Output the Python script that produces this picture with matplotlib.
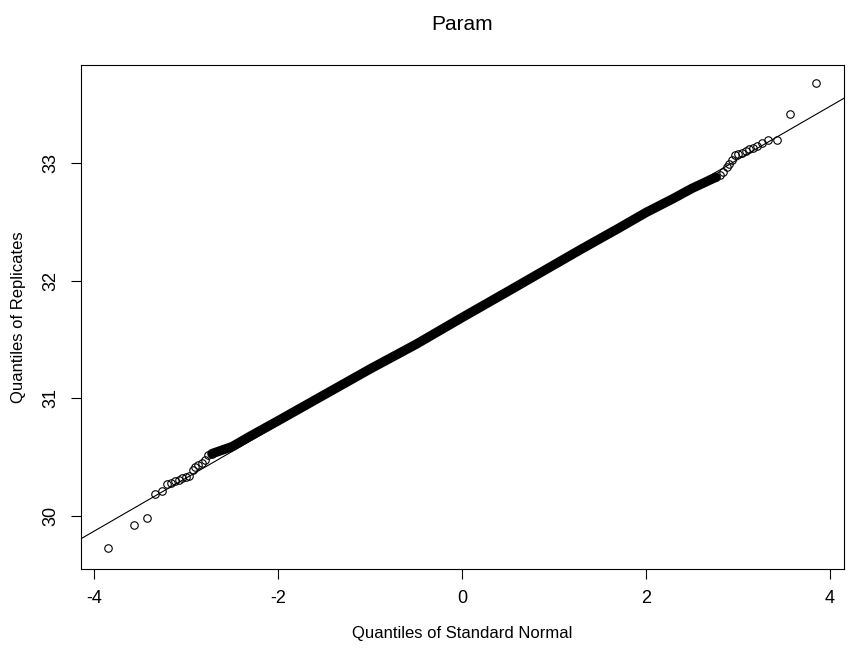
import matplotlib
matplotlib.use("Agg")
import matplotlib.pyplot as plt

plt.rcParams['font.family'] = ['Liberation Sans', 'DejaVu Sans']
plt.rcParams['axes.unicode_minus'] = False

# sparse tail points (theoretical quantile, sample quantile)
low_x = [-3.845, -3.565, -3.43, -3.34, -3.264, -3.21, -3.163, -3.12, -3.08, -3.04,
         -3.0, -2.964, -2.93, -2.90, -2.866, -2.83, -2.79, -2.757, -2.72]
low_y = [29.726, 29.926, 29.983, 30.19, 30.21, 30.27, 30.283, 30.30, 30.31, 30.32,
         30.33, 30.343, 30.39, 30.42, 30.433, 30.45, 30.476, 30.518, 30.53]

high_x = [2.76, 2.80, 2.84, 2.877, 2.90, 2.93, 2.967, 3.0, 3.043, 3.087,
          3.12, 3.167, 3.21, 3.265, 3.33, 3.42, 3.57, 3.845]
high_y = [32.88, 32.90, 32.926, 32.963, 32.99, 33.025, 33.07, 33.076, 33.09, 33.105,
          33.116, 33.127, 33.144, 33.167, 33.195, 33.195, 33.42, 33.677]

# dense middle of the sample (read along the black band)
band_x = [-2.72, -2.5, -2.3, -2.0, -1.5, -1.0, -0.5, 0.0, 0.5, 1.0, 1.3, 1.7, 2.0, 2.3, 2.5, 2.76]
band_y = [30.53, 30.59, 30.68, 30.81, 31.03, 31.25, 31.46, 31.687, 31.91, 32.135, 32.27,
          32.445, 32.58, 32.70, 32.785, 32.88]

# reference line
line_icept = 31.677
line_slope = 0.4513

fig = plt.figure(figsize=(8.49, 6.51), dpi=100)
ax = fig.add_axes([0.095, 0.126, 0.899, 0.774])

ax.axline((0, line_icept), slope=line_slope, color='black', lw=0.8)
ax.plot(band_x, band_y, color='black', lw=6.8, solid_capstyle='round')
ax.plot(low_x, low_y, 'o', mfc='none', mec='black', ms=5.4, mew=0.8)
ax.plot(high_x, high_y, 'o', mfc='none', mec='black', ms=5.4, mew=0.8)

ax.set_xlim(-4.147, 4.152)
ax.set_ylim(29.55, 33.833)
ax.set_xticks([-4, -2, 0, 2, 4])
ax.set_yticks([30, 31, 32, 33])
ax.set_yticklabels(['30', '31', '32', '33'], rotation=90, va='center')
ax.tick_params(direction='out', length=7, width=0.8, labelsize=13, pad=8)
for s in ax.spines.values():
    s.set_linewidth(0.8)

ax.set_xlabel('Quantiles of Standard Normal', fontsize=12, labelpad=14)
ax.set_ylabel('Quantiles of Replicates', fontsize=12, labelpad=12)
ax.set_title('Param', fontsize=15, pad=25)

fig.savefig('out.png', dpi=100)
